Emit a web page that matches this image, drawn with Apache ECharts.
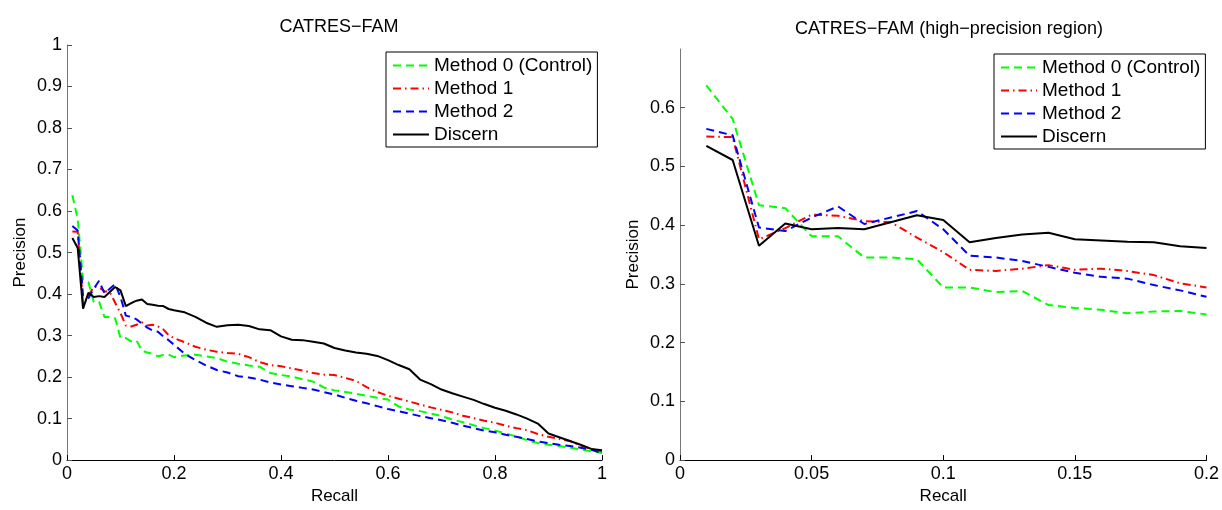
<!DOCTYPE html>
<html>
<head>
<meta charset="utf-8">
<script src="https://cdn.jsdelivr.net/npm/echarts@6/dist/echarts.min.js"></script>
<style>
  html, body { margin: 0; padding: 0; background: #fff; }
  #chart { width: 1222px; height: 510px; }
</style>
</head>
<body>
<div id="chart"></div>
<script>
// recall points, first 20 (high-precision region) then the rest of the curve
var recallHigh = [0.01, 0.02, 0.03, 0.04, 0.05, 0.06, 0.07, 0.08, 0.09, 0.10,
                  0.11, 0.12, 0.13, 0.14, 0.15, 0.16, 0.17, 0.18, 0.19, 0.20]
var recallTail = [0.22, 0.24, 0.26, 0.28, 0.30, 0.32, 0.34, 0.36, 0.38, 0.40,
                  0.42, 0.44, 0.46, 0.48, 0.50, 0.52, 0.54, 0.56, 0.58, 0.60,
                  0.62, 0.64, 0.66, 0.68, 0.70, 0.72, 0.74, 0.76, 0.78, 0.80,
                  0.82, 0.84, 0.86, 0.88, 0.90, 0.92, 0.94, 0.96, 0.98, 1.00]

var names = ['Method 0 (Control)', 'Method 1', 'Method 2', 'Discern']

// precision, high-precision region
var m0High = [0.638, 0.581, 0.434, 0.429, 0.381, 0.381, 0.345, 0.345, 0.342, 0.294,
              0.294, 0.286, 0.288, 0.264, 0.259, 0.256, 0.250, 0.253, 0.254, 0.248]
var m1High = [0.551, 0.550, 0.376, 0.395, 0.418, 0.416, 0.407, 0.405, 0.379, 0.354,
              0.324, 0.322, 0.326, 0.332, 0.324, 0.326, 0.322, 0.315, 0.301, 0.294]
var m2High = [0.564, 0.553, 0.396, 0.390, 0.413, 0.432, 0.402, 0.413, 0.424, 0.393,
              0.348, 0.345, 0.339, 0.329, 0.319, 0.312, 0.309, 0.298, 0.289, 0.278]
var discernHigh = [0.535, 0.511, 0.365, 0.403, 0.393, 0.395, 0.393, 0.405, 0.417, 0.409,
                   0.371, 0.378, 0.384, 0.387, 0.376, 0.374, 0.372, 0.371, 0.364, 0.361]

// precision, rest of the curve
var m0Tail = [0.252, 0.254, 0.250, 0.246, 0.237, 0.232, 0.228, 0.225, 0.210, 0.205,
              0.201, 0.195, 0.189, 0.175, 0.168, 0.164, 0.160, 0.155, 0.150, 0.146,
              0.129, 0.122, 0.118, 0.112, 0.106, 0.098, 0.091, 0.084, 0.077, 0.071,
              0.064, 0.057, 0.048, 0.041, 0.037, 0.034, 0.030, 0.026, 0.021, 0.017]
var m1Tail = [0.284, 0.273, 0.266, 0.261, 0.258, 0.256, 0.248, 0.236, 0.229, 0.226,
              0.221, 0.216, 0.210, 0.206, 0.205, 0.198, 0.191, 0.176, 0.164, 0.155,
              0.148, 0.141, 0.134, 0.127, 0.121, 0.115, 0.107, 0.101, 0.095, 0.090,
              0.083, 0.077, 0.072, 0.063, 0.056, 0.051, 0.046, 0.035, 0.027, 0.021]
var m2Tail = [0.256, 0.241, 0.228, 0.217, 0.211, 0.202, 0.199, 0.194, 0.187, 0.182,
              0.178, 0.174, 0.170, 0.164, 0.158, 0.150, 0.143, 0.137, 0.130, 0.123,
              0.118, 0.112, 0.106, 0.101, 0.096, 0.090, 0.083, 0.077, 0.071, 0.067,
              0.061, 0.056, 0.051, 0.045, 0.041, 0.037, 0.034, 0.030, 0.025, 0.017]
var discernTail = [0.356, 0.345, 0.331, 0.321, 0.325, 0.326, 0.323, 0.315, 0.313, 0.298,
                   0.290, 0.289, 0.285, 0.281, 0.270, 0.264, 0.259, 0.256, 0.251, 0.241,
                   0.229, 0.219, 0.194, 0.183, 0.170, 0.161, 0.153, 0.145, 0.135, 0.126,
                   0.119, 0.110, 0.100, 0.088, 0.064, 0.055, 0.046, 0.037, 0.027, 0.024]

var leftYTicks = [0, 0.1, 0.2, 0.3, 0.4, 0.5, 0.6, 0.7, 0.8, 0.9, 1]
var rightYTicks = [0, 0.1, 0.2, 0.3, 0.4, 0.5, 0.6]

var font = "'Liberation Sans', Arial, sans-serif"
var colors = ['#00ff00', '#ff0000', '#0000ff', '#000000']
var dashes = [[8, 5], [8, 4, 1.5, 4], [8, 5], 'solid']

function pairs(xs, ys) {
    var out = []
    for (var i = 0; i < xs.length; i++) out.push([xs[i], ys[i]])
    return out
}

var fullX = recallHigh.concat(recallTail)
var fullY = [m0High.concat(m0Tail), m1High.concat(m1Tail), m2High.concat(m2Tail), discernHigh.concat(discernTail)]
var highY = [m0High, m1High, m2High, discernHigh]

var series = []
for (var k = 0; k < 4; k++) {
    series.push({
        name: names[k], type: 'line', xAxisIndex: 0, yAxisIndex: 0,
        symbol: 'none', animation: false, z: k == 3 ? 3 : 2,
        lineStyle: {color: colors[k], width: 2, type: dashes[k]},
        itemStyle: {color: colors[k]},
        data: pairs(fullX, fullY[k])
    })
}
for (var k = 0; k < 4; k++) {
    series.push({
        name: names[k], type: 'line', xAxisIndex: 1, yAxisIndex: 1,
        symbol: 'none', animation: false, z: k == 3 ? 3 : 2,
        lineStyle: {color: colors[k], width: 2, type: dashes[k]},
        itemStyle: {color: colors[k]},
        data: pairs(recallHigh, highY[k])
    })
}

function xAxisOf(grid, max, interval) {
    return {
        type: 'value', gridIndex: grid, min: 0, max: max, interval: interval,
        name: 'Recall', nameLocation: 'middle', nameGap: 22,
        nameTextStyle: {fontFamily: font, fontSize: 17, color: '#000'},
        axisLine: {onZero: false, lineStyle: {color: '#000', width: 1}},
        axisTick: {inside: true, length: 5, lineStyle: {color: '#000'}},
        axisLabel: {fontFamily: font, fontSize: 18, color: '#000', margin: 5},
        splitLine: {show: false}
    }
}

function yAxisOf(grid, max, ticks) {
    return {
        type: 'value', gridIndex: grid, min: 0, max: max, interval: 0.1,
        name: 'Precision', nameLocation: 'middle', nameGap: 38, nameRotate: 90,
        nameTextStyle: {fontFamily: font, fontSize: 17, color: '#000'},
        axisLine: {show: true, onZero: false, lineStyle: {color: '#777', width: 1}},
        axisTick: {show: true, inside: true, length: 5, customValues: ticks, lineStyle: {color: '#555'}},
        axisLabel: {fontFamily: font, fontSize: 18, color: '#000', margin: 5, customValues: ticks},
        splitLine: {show: false}
    }
}

function legendAt(left, top) {
    return {
        data: names, orient: 'vertical', left: left, top: top,
        itemWidth: 36, itemHeight: 14, itemGap: 4,
        padding: [4, 5, 3, 6],
        borderColor: '#000', borderWidth: 1, backgroundColor: '#fff',
        itemStyle: {opacity: 0},
        textStyle: {fontFamily: font, fontSize: 19, color: '#000', lineHeight: 19},
        selectedMode: false
    }
}

var option = {
    backgroundColor: '#fff',
    animation: false,
    title: [
        {text: 'CATRES\u2212FAM', left: 334, top: 13, textAlign: 'center',
         textStyle: {fontFamily: font, fontSize: 18, fontWeight: 'normal', color: '#000'}},
        {text: 'CATRES\u2212FAM (high\u2212precision region)', left: 944, top: 15, textAlign: 'center',
         textStyle: {fontFamily: font, fontSize: 18, fontWeight: 'normal', color: '#000'}}
    ],
    legend: [legendAt(386, 52), legendAt(994, 54)],
    grid: [
        {left: 67, right: 620, top: 45, bottom: 43},
        {left: 680, right: 14, top: 49, bottom: 46}
    ],
    xAxis: [xAxisOf(0, 1, 0.2), xAxisOf(1, 0.2, 0.05)],
    yAxis: [yAxisOf(0, 1, leftYTicks), yAxisOf(1, 0.7, rightYTicks)],
    series: series
}

var chart = echarts.init(document.getElementById('chart'))
chart.setOption(option)
</script>
</body>
</html>
